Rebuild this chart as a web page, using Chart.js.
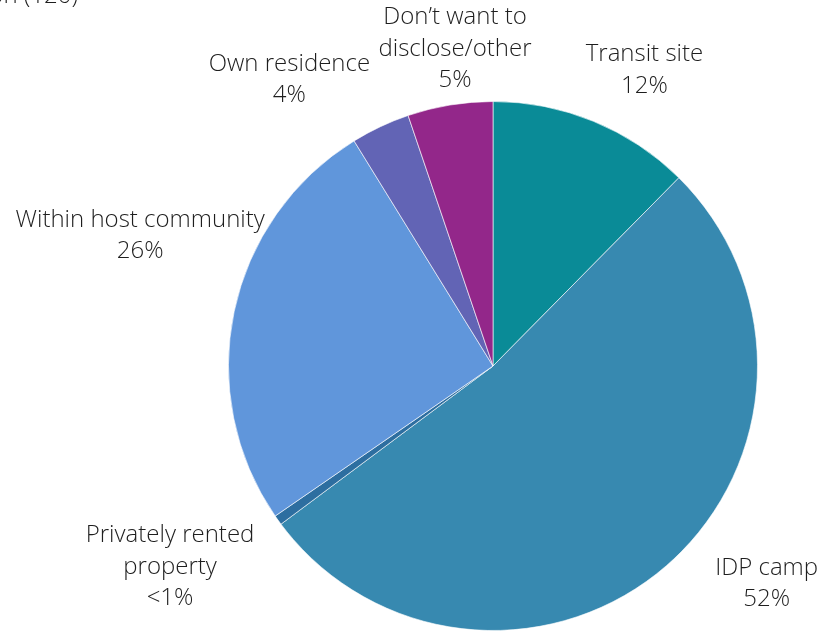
<!DOCTYPE html>
<html>
<head>
<meta charset="utf-8">
<script src="https://cdn.jsdelivr.net/npm/chart.js@4.4.0/dist/chart.umd.min.js"></script>
<style>
  html,body{margin:0;padding:0;background:#fff;}
  #wrap{position:relative;width:831px;height:632px;}
</style>
</head>
<body>
<div id="wrap"><canvas id="loc-chart" width="831" height="632"></canvas></div>
<script>
/* ═══════════════════════════════════
   LOCATION BREAKDOWN PIE
═══════════════════════════════════ */

var categories = [
  ['Transit site'],
  ['IDP camp'],
  ['Privately rented', 'property'],
  ['Within host community'],
  ['Own residence'],
  ['Don\u2019t want to', 'disclose/other']
];
var shares = [12.4, 52.4, 0.6, 25.8, 3.6, 5.2];
var sliceColors = ['#0a8b97', '#3789b0', '#2d6ea0', '#6096db', '#6264b5', '#93278a'];

// nudge of each label block from the outer middle of its slice
var labelNudge = [[51,-51],[100,18],[-108,47],[-94,-76],[-91,-47],[5,-56]];

var FONT = '"Open Sans", "Noto Sans", sans-serif';

function pctText(v){
  return v < 1 ? '<1%' : Math.round(v) + '%';
}

var outerLabels = {
  id: 'outerLabels',
  afterDatasetsDraw: function(chart){
    var ctx = chart.ctx;
    var arcs = chart.getDatasetMeta(0).data;
    ctx.save();
    ctx.fillStyle = '#1e1e1e';
    ctx.font = '300 24px ' + FONT;
    ctx.textAlign = 'center';
    ctx.textBaseline = 'middle';
    arcs.forEach(function(a, i){
      var mid = (a.startAngle + a.endAngle) / 2;
      var px = a.x + Math.cos(mid) * a.outerRadius + labelNudge[i][0];
      var py = a.y + Math.sin(mid) * a.outerRadius + labelNudge[i][1];
      var lines = categories[i].concat([pctText(shares[i])]);
      var lh = 31.5;
      var top = py - (lines.length - 1) * lh / 2;
      lines.forEach(function(t, k){ ctx.fillText(t, px, top + k * lh); });
    });
    // chart heading, mostly above the visible area
    ctx.textAlign = 'right';
    ctx.textBaseline = 'alphabetic';
    ctx.fillText('Current location (120)', 78, 3);
    ctx.restore();
  }
};

new Chart(document.getElementById('loc-chart'), {
  type: 'pie',
  data: {
    labels: categories.map(function(c){ return c.join(' '); }),
    datasets: [{
      data: shares,
      backgroundColor: sliceColors,
      borderColor: 'rgba(255,255,255,0.6)',
      borderWidth: 1
    }]
  },
  options: {
    responsive: false,
    animation: false,
    layout: { padding: { left: 228, right: 73, top: 101, bottom: 1 } },
    plugins: {
      legend: { display: false },
      tooltip: { enabled: false }
    }
  },
  plugins: [outerLabels]
});
</script>
</body>
</html>
